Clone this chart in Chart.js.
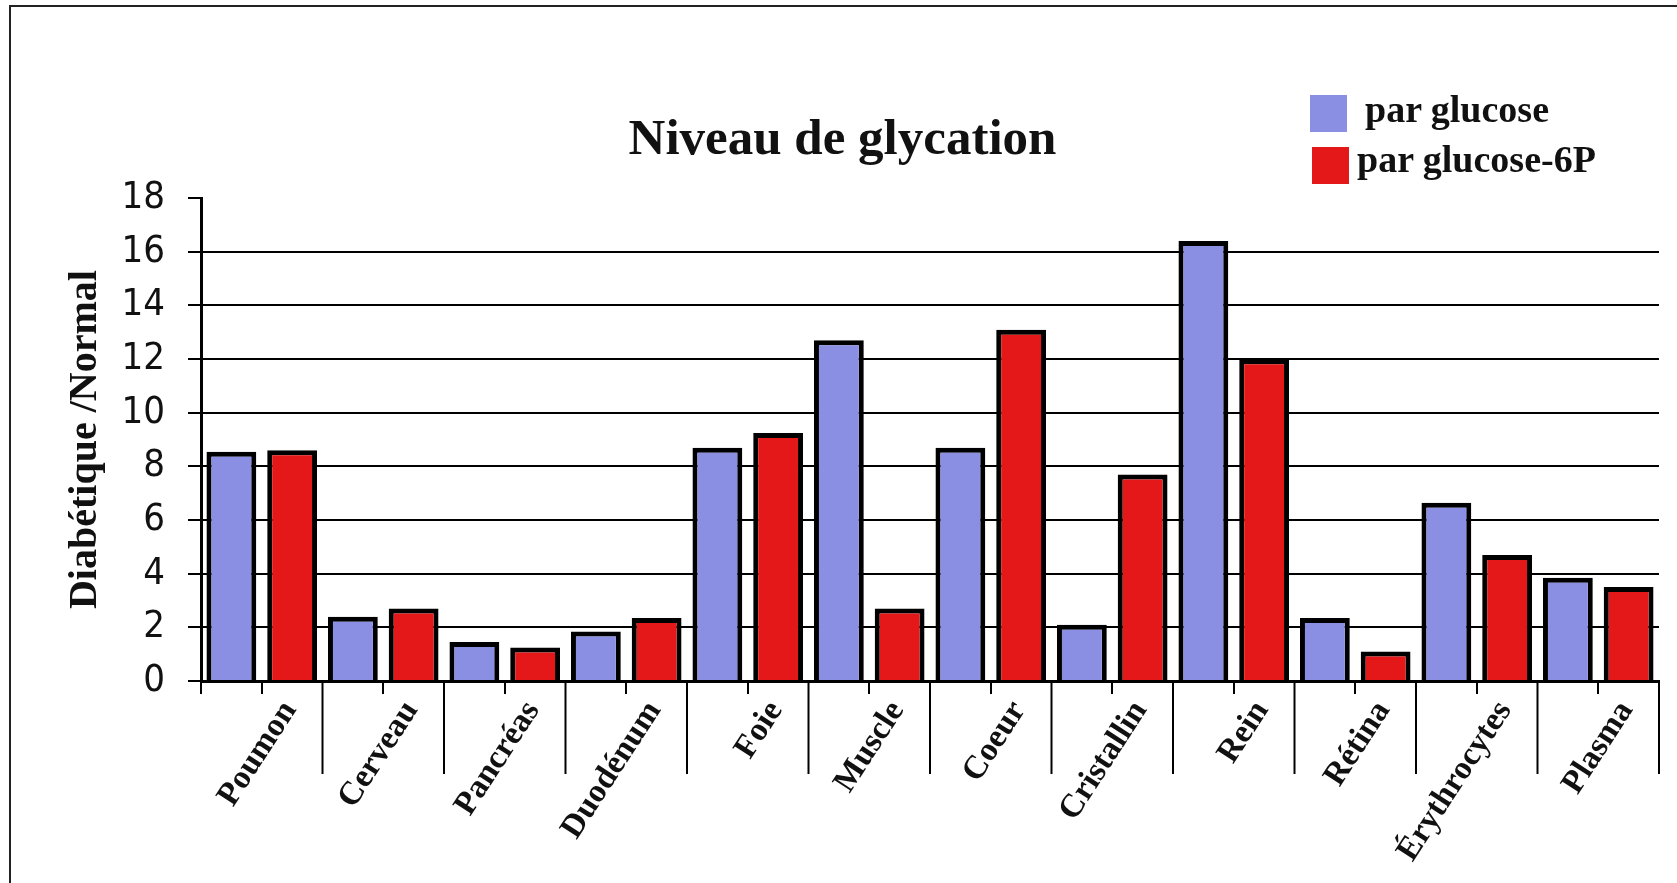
<!DOCTYPE html>
<html>
<head>
<meta charset="utf-8">
<title>Niveau de glycation</title>
<script src="https://cdn.jsdelivr.net/npm/chart.js@4.4.0/dist/chart.umd.min.js"></script>
<style>
  html, body { margin: 0; padding: 0; background: #fff; }
  #wrap { position: relative; width: 1677px; height: 883px; overflow: hidden; }
  #frame { position: absolute; left: 9px; top: 5px; width: 1700px; height: 900px;
           border-left: 2px solid #222; border-top: 2px solid #222; }
  #glyChart { position: absolute; left: 0; top: 0; }
  .leg { position: absolute; font: bold 38px "Liberation Serif", "Times New Roman", serif;
         line-height: 38px; color: #111; white-space: nowrap; }
  .sw { position: absolute; width: 37px; height: 37px; }
</style>
</head>
<body>
<div id="wrap">
  <div id="frame"></div>
  <canvas id="glyChart" width="1677" height="883"></canvas>
  <div class="sw" style="left:1310px; top:95px; background:#8b8fe3;"></div>
  <div class="leg" style="left:1365px; top:90px;">par glucose</div>
  <div class="sw" style="left:1312px; top:147px; background:#e41818;"></div>
  <div class="leg" style="left:1357px; top:140px;">par glucose-6P</div>
</div>
<script>
const organs = ['Poumon', 'Cerveau', 'Pancréas', 'Duodénum', 'Foie', 'Muscle',
                'Coeur', 'Cristallin', 'Rein', 'Rétina', 'Érythrocytes', 'Plasma'];
const parGlucose = [8.55, 2.4, 1.45, 1.85, 8.7, 12.7, 8.7, 2.1, 16.4, 2.35, 6.65, 3.85];
const parGlucose6P = [8.6, 2.7, 1.25, 2.35, 9.25, 2.7, 13.1, 7.7, 12.0, 1.1, 4.7, 3.5];
const yTicks = [0, 2, 4, 6, 8, 10, 12, 14, 16, 18];

const serif = '"Liberation Serif", "Times New Roman", serif';

// long separators between categories + the short tick under the y axis
const separators = {
  id: 'separators',
  afterDraw(chart) {
    const x = chart.scales.x;
    const ctx = chart.ctx;
    const bottom = chart.chartArea.bottom;
    ctx.save();
    ctx.strokeStyle = '#000';
    ctx.lineWidth = 2;
    for (let i = 0; i <= organs.length; i++) {
      const px = x.getPixelForValue(i - 0.5);
      const len = i === 0 ? 13 : 93;
      ctx.beginPath();
      ctx.moveTo(px, bottom);
      ctx.lineTo(px, bottom + len);
      ctx.stroke();
    }
    ctx.restore();
  }
};

new Chart(document.getElementById('glyChart').getContext('2d'), {
  type: 'bar',
  data: {
    labels: organs,
    datasets: [
      {
        label: 'par glucose',
        data: parGlucose,
        backgroundColor: '#8b8fe3',
        borderColor: '#000',
        borderWidth: 5,
        barPercentage: 0.82,
        categoryPercentage: 1.0
      },
      {
        label: 'par glucose-6P',
        data: parGlucose6P,
        backgroundColor: '#e41818',
        borderColor: '#000',
        borderWidth: 5,
        barPercentage: 0.82,
        categoryPercentage: 1.0
      }
    ]
  },
  options: {
    responsive: false,
    animation: false,
    layout: { padding: { left: 26, right: 18, top: 0, bottom: 0 } },
    plugins: {
      legend: { display: false },
      tooltip: { enabled: false },
      title: {
        display: true,
        text: 'Niveau de glycation',
        color: '#111',
        font: { family: serif, size: 51, weight: 'bold' },
        padding: { top: 110, bottom: 27 }
      }
    },
    scales: {
      x: {
        offset: true,
        grid: {
          offset: false,
          drawOnChartArea: false,
          color: '#000',
          lineWidth: 2,
          tickLength: 13
        },
        border: { color: '#000', width: 3 },
        ticks: {
          autoSkip: false,
          maxRotation: 57,
          minRotation: 57,
          padding: 0,
          labelOffset: 28,
          color: '#111',
          font: { family: serif, size: 33, weight: 'bold' }
        },
        afterFit(scale) { scale.height = 202; }
      },
      y: {
        min: 0,
        max: 18,
        afterBuildTicks(scale) { scale.ticks = yTicks.map(v => ({ value: v })); },
        grid: {
          color: ctx => (ctx.tick && ctx.tick.value === 18 ? 'rgba(0,0,0,0)' : '#000'),
          tickColor: '#000',
          lineWidth: 2,
          tickLength: 13
        },
        border: { color: '#000', width: 3 },
        ticks: {
          padding: 23,
          color: '#111',
          font: { family: '"Liberation Sans Narrow", "DejaVu Sans Condensed", sans-serif', size: 38 }
        },
        title: {
          display: true,
          text: 'Diabétique /Normal',
          color: '#111',
          font: { family: serif, size: 40, weight: 'bold' },
          padding: { top: 36, bottom: 0 }
        },
        afterFit(scale) { scale.width = 175; }
      }
    }
  },
  plugins: [separators]
});
</script>
</body>
</html>
